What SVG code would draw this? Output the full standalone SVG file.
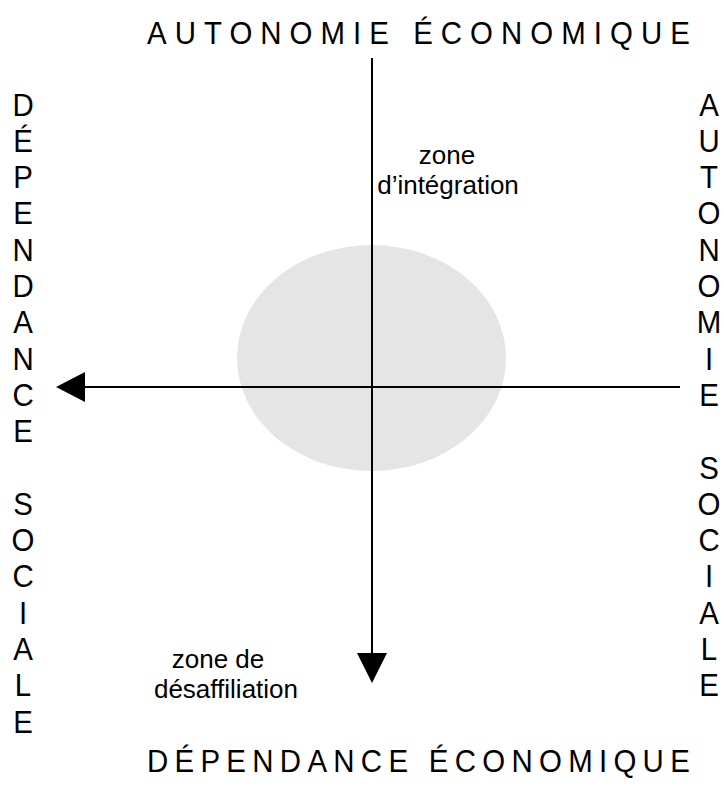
<svg xmlns="http://www.w3.org/2000/svg" width="724" height="805" viewBox="0 0 724 805">
<style>
text{font-family:"Liberation Sans",Arial,sans-serif;fill:#000}
.t{font-size:32px}
.v{font-size:32px;text-anchor:middle}
.z{font-size:26px;text-anchor:middle}
.ax{stroke:#000;stroke-width:2;fill:none}
</style>
<rect width="724" height="805" fill="#fff"/>
<g id="zone-ellipse"><ellipse cx="371.5" cy="358" rx="134.5" ry="113" fill="#e5e5e5"/></g>
<g id="connectors">
<line class="ax" x1="372" y1="58" x2="372" y2="654"/>
<polygon points="357,653 387,653 372,683" fill="#000"/>
<line class="ax" x1="680" y1="387" x2="84" y2="387"/>
<polygon points="85,372 85,402 56,387" fill="#000"/>
</g>
<g id="label-top" transform="translate(147,44) scale(0.92,1)"><text class="t" x="0" y="0" textLength="590" lengthAdjust="spacing">AUTONOMIE ÉCONOMIQUE</text></g>
<g id="label-bottom" transform="translate(147,772) scale(0.92,1)"><text class="t" x="0" y="0" textLength="590" lengthAdjust="spacing">DÉPENDANCE ÉCONOMIQUE</text></g>
<g id="label-left" transform="translate(23,0) scale(0.92,1)">
<text class="v" x="0" y="115.6">D</text>
<text class="v" x="0" y="151.9">É</text>
<text class="v" x="0" y="188.2">P</text>
<text class="v" x="0" y="224.5">E</text>
<text class="v" x="0" y="260.8">N</text>
<text class="v" x="0" y="297.1">D</text>
<text class="v" x="0" y="333.4">A</text>
<text class="v" x="0" y="369.7">N</text>
<text class="v" x="0" y="406">C</text>
<text class="v" x="0" y="442.3">E</text>
<text class="v" x="0" y="514.9">S</text>
<text class="v" x="0" y="551.2">O</text>
<text class="v" x="0" y="587.5">C</text>
<text class="v" x="0" y="623.8">I</text>
<text class="v" x="0" y="660.1">A</text>
<text class="v" x="0" y="696.4">L</text>
<text class="v" x="0" y="732.7">E</text>
</g>
<g id="label-right" transform="translate(709,0) scale(0.92,1)">
<text class="v" x="0" y="115.6">A</text>
<text class="v" x="0" y="151.9">U</text>
<text class="v" x="0" y="188.2">T</text>
<text class="v" x="0" y="224.5">O</text>
<text class="v" x="0" y="260.8">N</text>
<text class="v" x="0" y="297.1">O</text>
<text class="v" x="0" y="333.4">M</text>
<text class="v" x="0" y="369.7">I</text>
<text class="v" x="0" y="406">E</text>
<text class="v" x="0" y="478.6">S</text>
<text class="v" x="0" y="514.9">O</text>
<text class="v" x="0" y="551.2">C</text>
<text class="v" x="0" y="587.5">I</text>
<text class="v" x="0" y="623.8">A</text>
<text class="v" x="0" y="660.1">L</text>
<text class="v" x="0" y="696.4">E</text>
</g>
<g id="zone-integration">
<text class="z" x="447" y="164">zone</text>
<text class="z" x="448" y="193.5">d’intégration</text>
</g>
<g id="zone-desaffiliation">
<text class="z" x="218" y="668">zone de</text>
<text class="z" x="226" y="697.5">désaffiliation</text>
</g>
</svg>
